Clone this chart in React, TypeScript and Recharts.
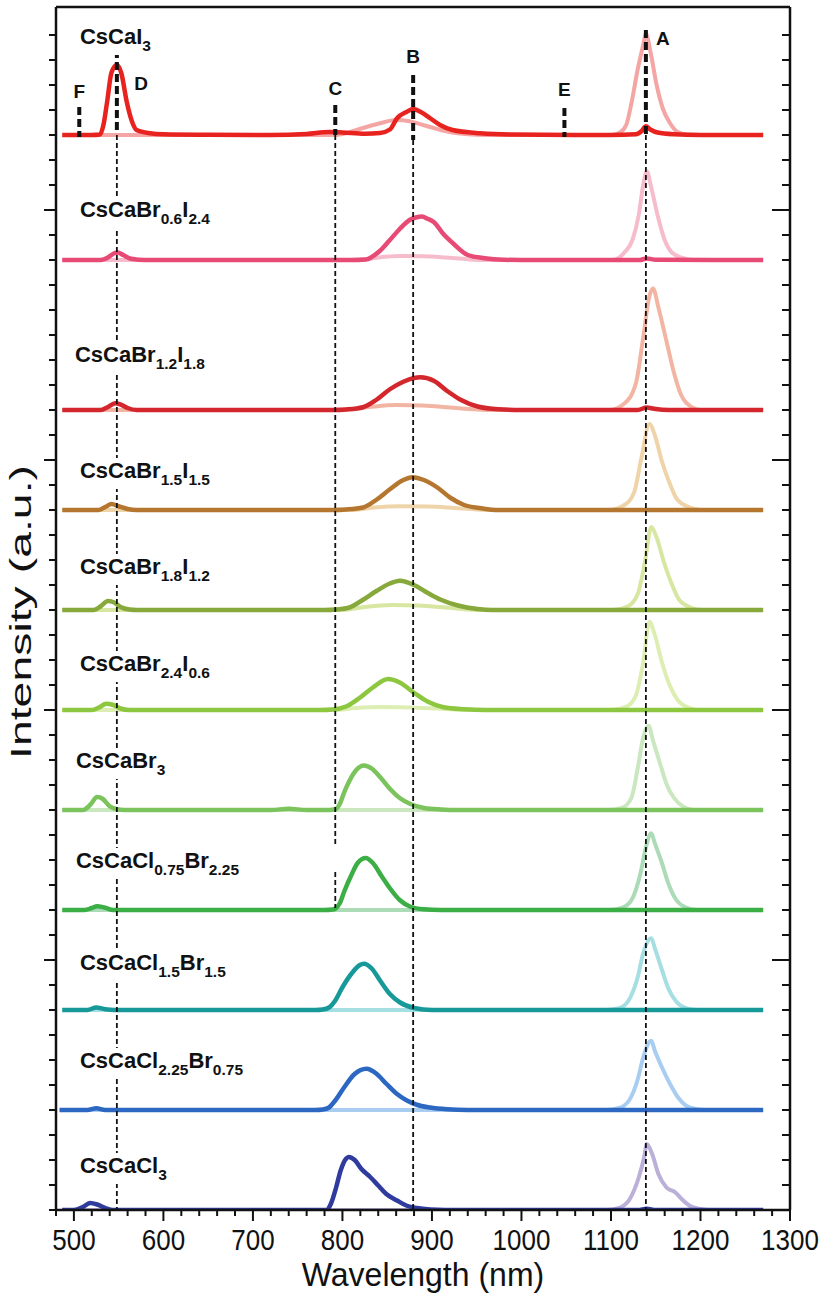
import { LineChart, Line, XAxis, YAxis, ReferenceLine, ReferenceDot } from 'recharts'

// wavelength ticks (nm) and intensity ticks (a.u., one unit = one minor tick)
const X_TICKS = [480, 500, 520, 540, 560, 580, 600, 620, 640, 660, 680, 700, 720, 740, 760, 780, 800, 820, 840, 860, 880, 900, 920, 940, 960, 980, 1000, 1020, 1040, 1060, 1080, 1100, 1120, 1140, 1160, 1180, 1200, 1220, 1240, 1260, 1280, 1300]
const Y_TICKS = [0, 1, 2, 3, 4, 5, 6, 7, 8, 9, 10, 11, 12, 13, 14, 15, 16, 17, 18, 19, 20, 21, 22, 23, 24, 25, 26, 27, 28, 29, 30, 31, 32, 33, 34, 35, 36, 37, 38, 39, 40, 41, 42, 43, 44, 45, 46, 47]

// [wavelength, intensity above own baseline]
const CSCAI3_DARK = [[487, 0], [520, 0], [529, 0.02], [533, 0.4], [537, 1.3], [542, 2.5], [548, 2.8], [553, 2.47], [559, 1.33], [565, 0.53], [570, 0.2], [585, 0.07], [600, 0.03], [650, 0.01], [720, 0], [760, 0.04], [785, 0.12], [800, 0.1], [825, 0.05], [842, 0.08], [853, 0.22], [861, 0.67], [872, 0.93], [879, 1.04], [887, 0.93], [898, 0.67], [909, 0.4], [923, 0.2], [954, 0.07], [990, 0.02], [1100, 0], [1128, 0.03], [1134, 0.15], [1139, 0.35], [1144, 0.22], [1152, 0.1], [1170, 0.03], [1200, 0], [1270, 0]]
const CSCAI3_PALE = [[487, 0], [790, 0], [805, 0.08], [820, 0.25], [840, 0.45], [860, 0.6], [875, 0.55], [890, 0.4], [905, 0.25], [920, 0.12], [940, 0.03], [960, 0], [1100, 0], [1110, 0.1], [1117, 0.4], [1123, 1.3], [1130, 2.65], [1136, 3.6], [1139, 4.05], [1144, 3.35], [1151, 2.0], [1158, 1.05], [1166, 0.47], [1174, 0.13], [1185, 0.02], [1200, 0], [1270, 0]]

const BR06_DARK = [[487, 0], [530, 0], [538, 0.1], [545, 0.27], [549, 0.3], [555, 0.2], [564, 0.05], [580, 0], [810, 0], [826, 0.02], [841, 0.34], [852, 0.76], [864, 1.24], [875, 1.6], [882, 1.7], [889, 1.74], [895, 1.65], [902, 1.52], [913, 1.03], [925, 0.62], [940, 0.2], [959, 0.07], [980, 0.01], [1000, 0], [1132, 0], [1140, 0.06], [1150, 0.01], [1270, 0]]
const BR06_PALE = [[487, 0], [820, 0], [840, 0.1], [865, 0.16], [890, 0.15], [915, 0.1], [940, 0.03], [960, 0], [1102, 0], [1115, 0.3], [1124, 0.8], [1131, 1.8], [1136, 3.0], [1140, 3.55], [1145, 2.9], [1152, 1.8], [1160, 0.8], [1168, 0.3], [1180, 0.08], [1192, 0], [1270, 0]]

const BR12_DARK = [[487, 0], [530, 0], [538, 0.12], [546, 0.27], [552, 0.22], [560, 0.08], [570, 0], [790, 0], [804, 0.02], [823, 0.11], [838, 0.41], [853, 0.83], [868, 1.13], [880, 1.28], [887, 1.31], [902, 1.17], [917, 0.76], [932, 0.41], [951, 0.14], [974, 0.03], [1000, 0], [1130, 0], [1140, 0.1], [1148, 0.05], [1165, 0], [1270, 0]]
const BR12_PALE = [[487, 0], [800, 0], [830, 0.12], [860, 0.2], [890, 0.18], [920, 0.1], [950, 0.02], [970, 0], [1098, 0], [1115, 0.26], [1128, 1.09], [1136, 2.9], [1143, 4.56], [1147, 4.86], [1153, 4.1], [1162, 2.75], [1170, 1.54], [1178, 0.63], [1191, 0.1], [1200, 0], [1270, 0]]

const BR15_DARK = [[487, 0], [528, 0], [535, 0.12], [542, 0.24], [550, 0.15], [560, 0.04], [570, 0], [790, 0], [804, 0.02], [823, 0.1], [838, 0.41], [853, 0.83], [868, 1.2], [878, 1.31], [891, 1.2], [906, 0.9], [921, 0.48], [936, 0.2], [955, 0.07], [974, 0], [1270, 0]]
const BR15_PALE = [[487, 0], [810, 0], [835, 0.1], [865, 0.15], [895, 0.14], [925, 0.08], [950, 0.02], [970, 0], [1098, 0], [1115, 0.2], [1126, 0.72], [1134, 2.08], [1143, 3.44], [1149, 2.99], [1157, 1.93], [1166, 1.03], [1174, 0.42], [1187, 0.12], [1200, 0], [1270, 0]]

const BR18_DARK = [[487, 0], [522, 0], [530, 0.15], [538, 0.36], [545, 0.3], [552, 0.12], [562, 0.02], [570, 0], [780, 0], [793, 0.02], [808, 0.1], [823, 0.41], [838, 0.76], [853, 1.06], [864, 1.17], [880, 1.0], [895, 0.69], [910, 0.41], [929, 0.18], [951, 0.04], [967, 0], [1270, 0]]
const BR18_PALE = [[487, 0], [800, 0], [825, 0.12], [855, 0.2], [885, 0.18], [915, 0.1], [940, 0.02], [960, 0], [1102, 0], [1119, 0.15], [1130, 0.65], [1138, 1.93], [1145, 3.32], [1151, 2.9], [1159, 1.93], [1168, 1.03], [1176, 0.42], [1189, 0.1], [1202, 0], [1270, 0]]

const BR24_DARK = [[487, 0], [520, 0], [528, 0.1], [536, 0.25], [544, 0.2], [552, 0.06], [562, 0], [775, 0], [789, 0.02], [804, 0.14], [819, 0.48], [834, 0.9], [851, 1.24], [864, 1.1], [880, 0.69], [895, 0.34], [913, 0.11], [936, 0.03], [960, 0], [1270, 0]]
const BR24_PALE = [[487, 0], [790, 0], [815, 0.08], [845, 0.12], [875, 0.1], [905, 0.06], [930, 0.01], [950, 0], [1100, 0], [1118, 0.15], [1128, 0.6], [1136, 1.9], [1143, 3.53], [1149, 3.0], [1157, 1.9], [1166, 0.95], [1175, 0.38], [1188, 0.08], [1200, 0], [1270, 0]]

const BR3_DARK = [[487, 0], [510, 0], [518, 0.2], [526, 0.52], [532, 0.45], [540, 0.15], [548, 0.03], [556, 0], [720, 0], [740, 0.05], [760, 0], [785, 0], [792, 0.03], [797, 0.24], [802, 0.71], [808, 1.18], [815, 1.58], [824, 1.78], [833, 1.65], [842, 1.32], [853, 0.85], [864, 0.48], [876, 0.24], [891, 0.08], [910, 0.02], [930, 0], [1270, 0]]
const BR3_PALE = [[487, 0], [1098, 0], [1113, 0.1], [1123, 0.5], [1130, 1.7], [1136, 2.9], [1142, 3.37], [1147, 2.77], [1155, 1.84], [1162, 1.04], [1170, 0.5], [1181, 0.13], [1192, 0], [1270, 0]]

const CL075_DARK = [[487, 0], [512, 0], [520, 0.08], [526, 0.15], [534, 0.1], [544, 0], [780, 0], [789, 0.02], [792, 0.05], [797, 0.27], [802, 0.74], [810, 1.4], [817, 1.88], [826, 2.08], [834, 1.88], [844, 1.34], [853, 0.87], [864, 0.4], [876, 0.13], [891, 0.03], [910, 0], [1270, 0]]
const CL075_PALE = [[487, 0], [1098, 0], [1113, 0.1], [1123, 0.4], [1133, 1.47], [1139, 2.5], [1145, 3.07], [1149, 2.67], [1157, 1.87], [1164, 1.07], [1173, 0.4], [1184, 0.1], [1196, 0], [1270, 0]]

const CL15_DARK = [[487, 0], [515, 0], [525, 0.1], [535, 0.03], [545, 0], [770, 0], [778, 0.02], [785, 0.1], [792, 0.38], [800, 0.91], [810, 1.45], [819, 1.79], [824, 1.85], [833, 1.65], [842, 1.18], [853, 0.64], [864, 0.31], [880, 0.08], [900, 0], [1270, 0]]
const CL15_PALE = [[487, 0], [1095, 0], [1109, 0.07], [1120, 0.4], [1130, 1.33], [1136, 2.27], [1145, 2.87], [1149, 2.47], [1157, 1.6], [1164, 0.87], [1173, 0.33], [1184, 0.07], [1196, 0], [1270, 0]]

const CL225_DARK = [[484, 0], [515, 0], [525, 0.07], [535, 0], [770, 0], [778, 0.02], [785, 0.1], [792, 0.38], [802, 0.91], [813, 1.42], [827, 1.65], [838, 1.45], [849, 1.05], [861, 0.64], [872, 0.38], [883, 0.21], [898, 0.1], [917, 0.03], [940, 0], [1270, 0]]
const CL225_PALE = [[484, 0], [1095, 0], [1109, 0.08], [1120, 0.37], [1130, 1.24], [1136, 2.1], [1145, 2.77], [1149, 2.37], [1157, 1.7], [1166, 1.04], [1175, 0.5], [1184, 0.17], [1196, 0.03], [1205, 0], [1270, 0]]

const CL3_DARK = [[487, 0], [500, 0], [510, 0.12], [518, 0.28], [526, 0.22], [535, 0.08], [545, 0], [775, 0], [782, 0], [787, 0.24], [793, 0.91], [798, 1.58], [804, 2.05], [807, 2.12], [814, 1.99], [821, 1.65], [831, 1.32], [840, 0.98], [849, 0.64], [861, 0.38], [872, 0.17], [883, 0.08], [898, 0.02], [915, 0], [1130, 0], [1140, 0.05], [1150, 0], [1270, 0]]
const CL3_PALE = [[487, 0], [1095, 0], [1110, 0.1], [1121, 0.44], [1131, 1.3], [1137, 2.1], [1140, 2.64], [1146, 2.24], [1153, 1.44], [1162, 0.9], [1172, 0.7], [1179, 0.44], [1188, 0.17], [1200, 0.04], [1210, 0], [1270, 0]]

// stacking offsets (a.u.) of each spectrum, top to bottom
const OFFSETS = [43, 38, 32, 28, 24, 20, 16, 12, 8, 4, 0]
const DARK_COLORS = ['#e8231f', '#e84a76', '#d3272d', '#b5772f', '#87a93b', '#8dc63f', '#7bc35c', '#3baf45', '#17999a', '#2c68c2', '#2f3b9d']
const PALE_COLORS = ['#f4a6a4', '#f6bccb', '#f3b5a3', '#efd4a9', '#d7e7a1', '#ddeeb2', '#cbe7bf', '#acdbb8', '#a6dfe1', '#a9cdf1', '#bab0d8']

// sample names: even parts normal, odd parts subscript
const LABEL_PARTS = [
  ['CsCaI', '3'],
  ['CsCaBr', '0.6', 'I', '2.4'],
  ['CsCaBr', '1.2', 'I', '1.8'],
  ['CsCaBr', '1.5', 'I', '1.5'],
  ['CsCaBr', '1.8', 'I', '1.2'],
  ['CsCaBr', '2.4', 'I', '0.6'],
  ['CsCaBr', '3'],
  ['CsCaCl', '0.75', 'Br', '2.25'],
  ['CsCaCl', '1.5', 'Br', '1.5'],
  ['CsCaCl', '2.25', 'Br', '0.75'],
  ['CsCaCl', '3'],
]
const LABEL_X = [506.8, 506.8, 501.2, 506.8, 506.8, 506.8, 502.3, 502.3, 506.8, 506.8, 506.8]
const LABEL_Y = [46.64, 39.72, 33.92, 29.28, 25.44, 21.56, 17.68, 13.68, 9.6, 5.68, 1.48]

// peak markers
const MARK_NAMES = ['A', 'B', 'C', 'D', 'E', 'F']
const MARK_X = [1158, 879, 792, 575, 1048, 506]
const MARK_Y = [46.6, 45.88, 44.6, 44.8, 44.56, 44.48]

// bold dashed stubs at the top: [x, yFrom, yTo]
const STUBS = [[506, 44.12, 42.92], [548, 46.4, 43.08], [792, 44.2, 43.0], [879, 45.4, 42.8], [1048, 44.08, 42.92], [1139, 47.2, 43.0]]
// thin dashed guides running down the stack
const GUIDES = [[548, 43.0, 0], [792, 43.0, 14.6], [792, 13.52, 12.08], [879, 42.8, 0], [1139, 43.0, 0]]

const SERIES = [
  { name: 'CsCaI3', dark: CSCAI3_DARK, pale: CSCAI3_PALE },
  { name: 'CsCaBr0.6I2.4', dark: BR06_DARK, pale: BR06_PALE },
  { name: 'CsCaBr1.2I1.8', dark: BR12_DARK, pale: BR12_PALE },
  { name: 'CsCaBr1.5I1.5', dark: BR15_DARK, pale: BR15_PALE },
  { name: 'CsCaBr1.8I1.2', dark: BR18_DARK, pale: BR18_PALE },
  { name: 'CsCaBr2.4I0.6', dark: BR24_DARK, pale: BR24_PALE },
  { name: 'CsCaBr3', dark: BR3_DARK, pale: BR3_PALE },
  { name: 'CsCaCl0.75Br2.25', dark: CL075_DARK, pale: CL075_PALE },
  { name: 'CsCaCl1.5Br1.5', dark: CL15_DARK, pale: CL15_PALE },
  { name: 'CsCaCl2.25Br0.75', dark: CL225_DARK, pale: CL225_PALE },
  { name: 'CsCaCl3', dark: CL3_DARK, pale: CL3_PALE },
]

const shift = (pts: number[][], off: number) => pts.map(([x, y]) => ({ x, y: y + off }))

const FONT = '"Liberation Sans", Arial, sans-serif'
const AXIS_LINE = { stroke: '#111', strokeWidth: 2.5 }

function BottomTick(props: any) {
  const { x, y, payload } = props
  const major = payload.value % 100 === 0
  return (
    <g>
      <line x1={x} y1={y} x2={x} y2={y + (major ? 11 : 6)} stroke="#111" strokeWidth={2} />
      {major && (
        <text transform={`translate(${x}, ${y + 40}) scale(1, 1.12)`} textAnchor="middle" fontSize={26} fill="#111" fontFamily={FONT}>
          {payload.value}
        </text>
      )}
    </g>
  )
}

function TopTick(props: any) {
  const { x, y, payload } = props
  const major = payload.value % 100 === 0
  return <line x1={x} y1={y} x2={x} y2={y + (major ? 16 : 8)} stroke="#111" strokeWidth={2} />
}

function LeftTick(props: any) {
  const { x, y, payload } = props
  const major = payload.value > 0 && payload.value % 10 === 0
  return <line x1={x} y1={y} x2={x - (major ? 12 : 7)} y2={y} stroke="#111" strokeWidth={2} />
}

function RightTick(props: any) {
  const { x, y, payload } = props
  const major = payload.value > 0 && payload.value % 10 === 0
  return <line x1={x} y1={y} x2={x - (major ? 18 : 8)} y2={y} stroke="#111" strokeWidth={2} />
}

function XTitle(props: any) {
  const vb = props.viewBox
  return (
    <text transform={`translate(${vb.x + vb.width / 2}, ${vb.y + 76}) scale(1, 1.05)`} textAnchor="middle" fontSize={32} fill="#111" fontFamily={FONT}>
      Wavelength (nm)
    </text>
  )
}

function Formula({ cx, cy, parts }: { cx: number; cy: number; parts: string[] }) {
  const w = parts.reduce((a, p, i) => a + p.length * (i % 2 ? 8.8 : 14), 0)
  return (
    <g>
      <rect x={cx - 3} y={cy - 20} width={w + 6} height={31} fill="#fff" />
      <text x={cx} y={cy} fontSize={22} fontWeight="bold" fill="#111" fontFamily={FONT}>
        {parts.map((p, i) =>
          i % 2 ? (
            <tspan key={i} fontSize={15.5} dy={7}>{p}</tspan>
          ) : (
            <tspan key={i} dy={i ? -7 : 0}>{p}</tspan>
          ),
        )}
      </text>
    </g>
  )
}

export default function App() {
  return (
    <div style={{ position: 'absolute', left: 0, top: 0, width: 823, height: 1294, background: '#fff' }}>
      <LineChart width={823} height={1294} margin={{ top: 7, right: 33, left: 0, bottom: 0 }}>
        <XAxis
          type="number" dataKey="x" domain={[480, 1300]} ticks={X_TICKS} interval={0} allowDataOverflow
          height={84} tickSize={0} tickMargin={0} tickLine={false} tick={<BottomTick />} axisLine={AXIS_LINE}
          label={(p: any) => <XTitle {...p} />}
        />
        <XAxis
          xAxisId="top" orientation="top" mirror type="number" domain={[480, 1300]} ticks={X_TICKS} interval={0}
          allowDataOverflow tickSize={0} tickMargin={0} tickLine={false} tick={<TopTick />} axisLine={AXIS_LINE}
        />
        <YAxis
          type="number" domain={[0, 48.12]} ticks={Y_TICKS} interval={0} allowDataOverflow width={56}
          tickSize={0} tickMargin={0} tickLine={false} tick={<LeftTick />} axisLine={AXIS_LINE}
        />
        <YAxis
          yAxisId="right" orientation="right" mirror type="number" domain={[0, 48.12]} ticks={Y_TICKS} interval={0}
          allowDataOverflow tickSize={0} tickMargin={0} tickLine={false} tick={<RightTick />} axisLine={AXIS_LINE}
        />

        {SERIES.map((s, i) => (
          <Line
            key={s.name + '-pale'} data={shift(s.pale, OFFSETS[i])} dataKey="y" type="monotone" dot={false}
            stroke={PALE_COLORS[i]} strokeWidth={4} isAnimationActive={false}
          />
        ))}
        {SERIES.map((s, i) => (
          <Line
            key={s.name} data={shift(s.dark, OFFSETS[i])} dataKey="y" type="monotone" dot={false}
            stroke={DARK_COLORS[i]} strokeWidth={4.5} isAnimationActive={false}
          />
        ))}

        {GUIDES.map(([x, y1, y2], i) => (
          <ReferenceLine
            key={'g' + i} segment={[{ x, y: y1 }, { x, y: y2 }]} stroke="#111" strokeWidth={1.8}
            strokeDasharray="5 3" ifOverflow="visible"
          />
        ))}
        {STUBS.map(([x, y1, y2], i) => (
          <ReferenceLine
            key={'s' + i} segment={[{ x, y: y1 }, { x, y: y2 }]} stroke="#111" strokeWidth={4}
            strokeDasharray="8 4" ifOverflow="visible"
          />
        ))}

        {LABEL_PARTS.map((parts, i) => (
          <ReferenceDot
            key={'l' + i} x={LABEL_X[i]} y={LABEL_Y[i]} r={0} ifOverflow="visible"
            shape={(p: any) => <Formula cx={p.cx} cy={p.cy} parts={parts} />}
          />
        ))}
        {MARK_NAMES.map((m, i) => (
          <ReferenceDot
            key={'m' + i} x={MARK_X[i]} y={MARK_Y[i]} r={0} ifOverflow="visible"
            shape={(p: any) => (
              <text x={p.cx} y={p.cy} textAnchor="middle" fontSize={19} fontWeight="bold" fill="#111" fontFamily={FONT}>
                {m}
              </text>
            )}
          />
        ))}
      </LineChart>
      <svg width={60} height={1294} style={{ position: 'absolute', left: 0, top: 0, pointerEvents: 'none' }}>
        <text transform="translate(31, 612) rotate(-90) scale(1.6, 1)" textAnchor="middle" fontSize={29} fill="#111" fontFamily={FONT}>
          Intensity (a.u.)
        </text>
      </svg>
    </div>
  )
}
